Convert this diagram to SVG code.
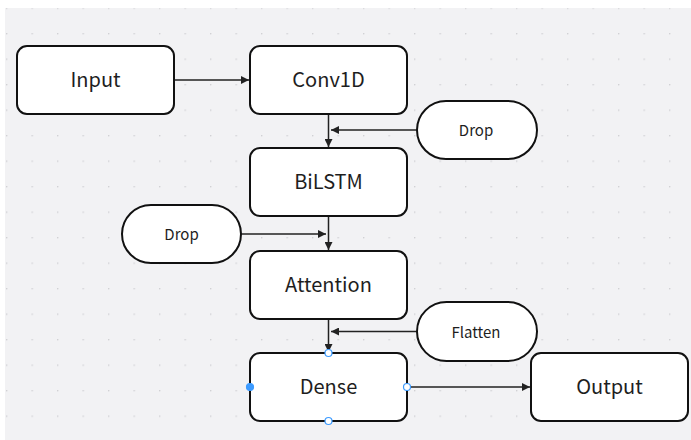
<svg xmlns="http://www.w3.org/2000/svg" width="691" height="440" viewBox="0 0 691 440">
  <style>
    .box { fill: #ffffff; stroke: #111111; stroke-width: 2; }
    .lbl { font-family: "Noto Sans CJK SC", "Noto Sans", sans-serif; font-size: 20px; font-weight: 400; fill: #1e1e1e; text-anchor: middle; }
    .sm { font-size: 15px; }
    .edge { fill: none; stroke: #222222; stroke-width: 1.5; }
    .h-open { fill: #ffffff; stroke: #3d9bff; stroke-width: 1.2; }
    .h-fill { fill: #3d9bff; stroke: #3d9bff; stroke-width: 1.2; }
  </style>
  <defs>
    <pattern id="dots" x="6" y="7.5" width="25.5" height="25.5" patternUnits="userSpaceOnUse">
      <circle cx="0.75" cy="0.75" r="0.75" fill="#c9c9cd"/>
    </pattern>
    <marker id="arr" viewBox="0 0 10 10" refX="10" refY="5" markerWidth="8" markerHeight="8" markerUnits="userSpaceOnUse" orient="auto">
      <path d="M0,0 L10,5 L0,10 z" fill="#222222"/>
    </marker>
  </defs>

  <!-- canvas -->
  <rect x="0" y="0" width="691" height="440" fill="#ffffff"/>
  <rect x="5" y="8" width="686" height="432" fill="#f2f2f4"/>
  <rect x="5" y="8" width="686" height="432" fill="url(#dots)"/>

  <!-- connectors -->
  <g id="connectors">
    <line class="edge" x1="174" y1="80" x2="249" y2="80" marker-end="url(#arr)"/>
    <line class="edge" x1="328.5" y1="114" x2="328.5" y2="147" marker-end="url(#arr)"/>
    <line class="edge" x1="417" y1="130" x2="331" y2="130" marker-end="url(#arr)"/>
    <line class="edge" x1="241" y1="234" x2="326" y2="234" marker-end="url(#arr)"/>
    <line class="edge" x1="328.5" y1="216" x2="328.5" y2="250" marker-end="url(#arr)"/>
    <line class="edge" x1="328.5" y1="319" x2="328.5" y2="352" marker-end="url(#arr)"/>
    <line class="edge" x1="417" y1="331.5" x2="331" y2="331.5" marker-end="url(#arr)"/>
    <line class="edge" x1="407" y1="387" x2="530" y2="387" marker-end="url(#arr)"/>
  </g>

  <g id="input">
    <rect class="box" x="17" y="46" width="157" height="68" rx="10"/>
    <text class="lbl" x="95.5" y="87.3">Input</text>
  </g>
  <g id="conv1d">
    <rect class="box" x="250" y="46" width="157" height="68" rx="10"/>
    <text class="lbl" x="328.5" y="87.3">Conv1D</text>
  </g>
  <g id="drop1">
    <rect class="box" x="417" y="101" width="120" height="58" rx="29"/>
    <text class="lbl sm" x="476" y="136">Drop</text>
  </g>
  <g id="bilstm">
    <rect class="box" x="250" y="148" width="157" height="68" rx="10"/>
    <text class="lbl" x="328.5" y="189.3">BiLSTM</text>
  </g>
  <g id="drop2">
    <rect class="box" x="122" y="205" width="119" height="58" rx="29"/>
    <text class="lbl sm" x="181.5" y="240">Drop</text>
  </g>
  <g id="attention">
    <rect class="box" x="250" y="251" width="157" height="68" rx="10"/>
    <text class="lbl" x="328.5" y="292.3">Attention</text>
  </g>
  <g id="flatten">
    <rect class="box" x="417" y="302" width="120" height="59" rx="29.5"/>
    <text class="lbl sm" x="476" y="337.5">Flatten</text>
  </g>
  <g id="dense">
    <rect class="box" x="250" y="353" width="157" height="68" rx="10"/>
    <text class="lbl" x="328.5" y="394.3">Dense</text>
    <circle class="h-open" cx="328.5" cy="353" r="3.5"/>
    <circle class="h-open" cx="407" cy="387" r="3.5"/>
    <circle class="h-open" cx="328.5" cy="421" r="3.5"/>
    <circle class="h-fill" cx="250" cy="387" r="3.5"/>
  </g>
  <g id="output">
    <rect class="box" x="531" y="353" width="157" height="68" rx="10"/>
    <text class="lbl" x="609.5" y="394.3">Output</text>
  </g>
</svg>
